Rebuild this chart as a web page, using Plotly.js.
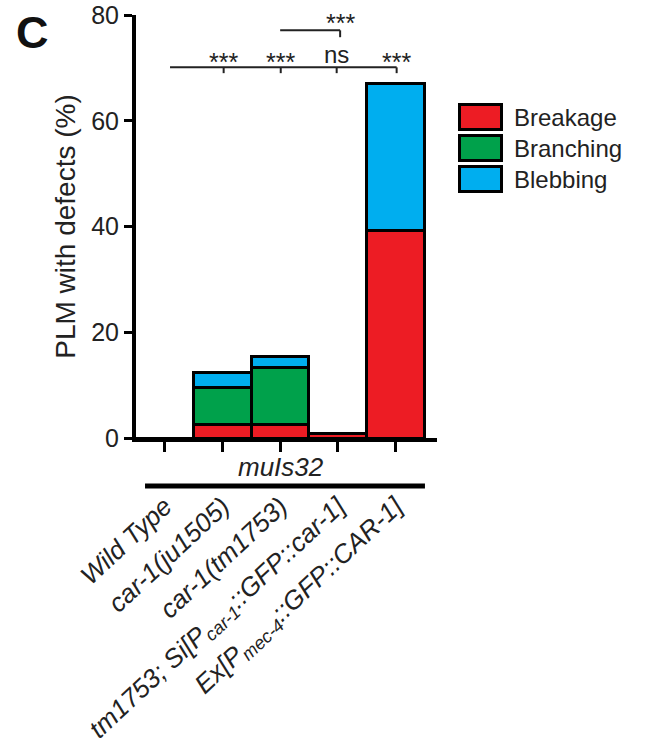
<!DOCTYPE html>
<html>
<head>
<meta charset="utf-8">
<script src="https://cdn.plot.ly/plotly-3.0.1.min.js"></script>
<style>html,body{margin:0;padding:0;background:#fff;}#chart{width:646px;height:754px;}</style>
</head>
<body>
<div id="chart"></div>
<script>
var categories = [
  "Wild Type",
  "car-1(ju1505)",
  "car-1(tm1753)",
  "tm1753; Si[P<sub>car-1</sub>::GFP::car-1]",
  "Ex[P<sub>mec-4</sub>::GFP::CAR-1]"
];
var breakage  = [0, 2.5, 2.5, 0.8, 39.3];
var branching = [0, 7.0, 10.9, 0, 0];
var blebbing  = [0, 2.8, 2.1, 0, 27.7];
var seriesNames = ["Breakage", "Branching", "Blebbing"];
var seriesColors = ["#ED1C24", "#00A14B", "#00AEEF"];
var yTicks = [0, 20, 40, 60, 80];
var sigLabels = ["***", "***", "ns", "***"];   // vs Wild Type, at categories 1..4
var sigTopLabel = "***";                        // category 2 vs category 3
var groupLabel = "muIs32";
var panelLabel = "C";

var FONT = "Liberation Sans, Arial, Helvetica, sans-serif";
var seriesData = [breakage, branching, blebbing];

var traces = seriesData.map(function (vals, i) {
  return {
    type: "bar",
    name: seriesNames[i],
    x: categories,
    y: vals,
    marker: {color: seriesColors[i], line: {color: "#000", width: 3}},
    showlegend: false,
    hoverinfo: "x+y+name"
  };
});

var shapes = [];
var annotations = [];

// significance: main line from Wild Type to last category
var yMain = 70.1, yTickEnd = 69.0;
shapes.push({type: "line", xref: "x", yref: "y", x0: 0.09, x1: 4.02, y0: yMain, y1: yMain, line: {color: "#222", width: 2}});
[1.02, 2.01, 2.98, 4.02].forEach(function (xv, i) {
  var isNs = sigLabels[i] === "ns";
  shapes.push({type: "line", xref: "x", yref: "y", x0: xv, x1: xv, y0: yMain, y1: yTickEnd, line: {color: "#222", width: 2}});
  annotations.push({xref: "x", yref: "y", x: xv, y: isNs ? 69.6 : 68.0, text: sigLabels[i], showarrow: false,
    xanchor: "center", yanchor: "bottom", font: {family: FONT, size: isNs ? 24 : 25, color: "#222"}});
});
// top bracket
var yTop = 77.1;
shapes.push({type: "line", xref: "x", yref: "y", x0: 2.0, x1: 3.04, y0: yTop, y1: yTop, line: {color: "#222", width: 2}});
shapes.push({type: "line", xref: "x", yref: "y", x0: 3.04, x1: 3.04, y0: yTop, y1: 75.8, line: {color: "#222", width: 2}});
annotations.push({xref: "x", yref: "y", x: 3.04, y: 75.55, text: sigTopLabel, showarrow: false,
  xanchor: "center", yanchor: "bottom", font: {family: FONT, size: 25, color: "#222"}});

// group label + line
annotations.push({xref: "paper", yref: "paper", x: 0.482, y: -0.0686, text: "<i>" + groupLabel + "</i>", showarrow: false,
  xanchor: "center", yanchor: "middle", font: {family: FONT, size: 26, color: "#222"}});
shapes.push({type: "line", xref: "paper", yref: "paper", x0: 0.03, x1: 0.96, y0: -0.1135, y1: -0.1135, line: {color: "#000", width: 5}});

// panel label
annotations.push({xref: "paper", yref: "paper", x: -0.405, y: 0.958, text: "<b>" + panelLabel + "</b>", showarrow: false,
  xanchor: "left", yanchor: "middle", font: {family: FONT, size: 45, color: "#111"}});

// legend (custom, big boxes)
var legTop = 103, legPitch = 31, legH = 28;
function py(p) { return (438 - p) / 423; }
function px(p) { return (p - 136) / 301; }
seriesNames.forEach(function (nm, i) {
  var t = legTop + i * legPitch;
  shapes.push({type: "rect", xref: "paper", yref: "paper", x0: px(459.5), x1: px(501.5), y0: py(t + 1.5), y1: py(t + legH - 1.5),
    fillcolor: seriesColors[i], line: {color: "#000", width: 3}});
  annotations.push({xref: "paper", yref: "paper", x: px(512), y: py(t + legH / 2), text: nm, showarrow: false,
    xanchor: "left", yanchor: "middle", font: {family: FONT, size: 24, color: "#222"}});
});

var layout = {
  width: 646, height: 754,
  margin: {l: 136, r: 209, t: 15, b: 316},
  paper_bgcolor: "#fff", plot_bgcolor: "#fff",
  barmode: "stack", bargap: 0,
  font: {family: FONT, color: "#222"},
  xaxis: {
    type: "category", range: [-0.5, 4.72],
    showline: true, linewidth: 4, linecolor: "#000",
    ticks: "outside", ticklen: 10, tickwidth: 3, tickcolor: "#000",
    tickangle: -43, ticklabelstandoff: 29,
    tickfont: {family: FONT, size: 26, color: "#222", style: "italic"},
    showgrid: false, zeroline: false, fixedrange: true
  },
  yaxis: {
    range: [0, 80], tickvals: yTicks,
    showline: true, linewidth: 4, linecolor: "#000",
    ticks: "outside", ticklen: 8, tickwidth: 3, tickcolor: "#000",
    tickfont: {family: FONT, size: 25, color: "#222"},
    showgrid: false, zeroline: false,
    title: {text: "PLM with defects (%)", font: {family: FONT, size: 28, color: "#222"}, standoff: 8}
  },
  shapes: shapes,
  annotations: annotations
};

Plotly.newPlot("chart", traces, layout, {displayModeBar: false, staticPlot: true});
</script>
</body>
</html>
